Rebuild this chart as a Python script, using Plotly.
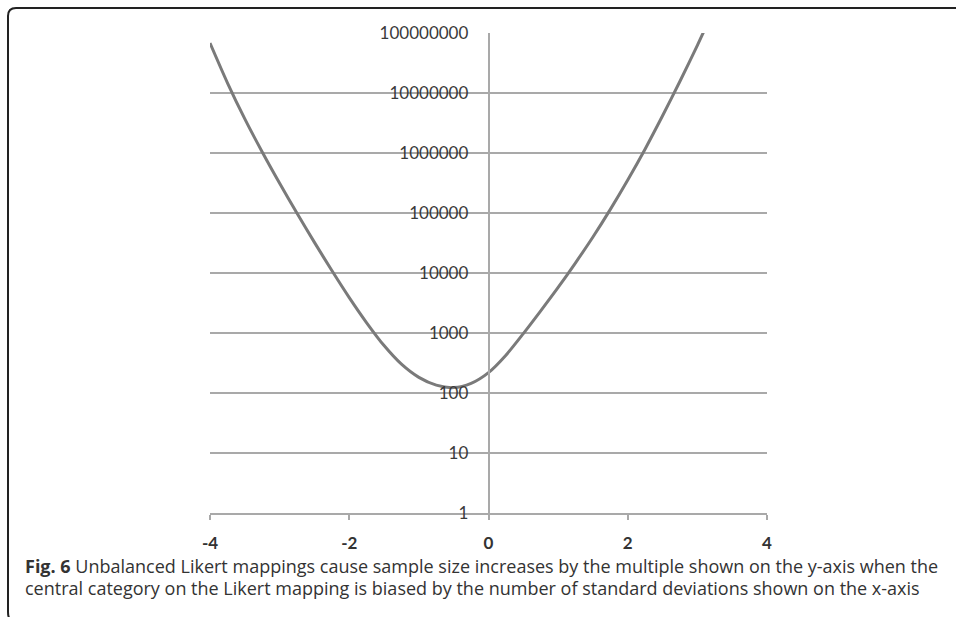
import plotly.graph_objects as go

# Data
x_sd = [-4.0, -3.75, -3.5, -3.25, -3.0, -2.75, -2.5, -2.25, -2.0, -1.75,
        -1.5, -1.25, -1.0, -0.75, -0.5, -0.25, 0.0, 0.25, 0.5, 0.75,
        1.0, 1.25, 1.5, 1.75, 2.0, 2.25, 2.5, 2.75, 3.0, 3.25]
multiple = [6.8e7, 1.48e7, 3.7e6, 1.04e6, 3.13e5, 9.9e4, 3.24e4, 1.1e4, 3890, 1480,
            617, 302, 182, 135, 123, 145, 219, 427, 977, 2340,
            5750, 1.48e4, 3.98e4, 1.15e5, 3.55e5, 1.17e6, 4.17e6, 1.57e7, 6.24e7, 2.66e8]

y_tickvals = [1, 10, 100, 1000, 10000, 100000, 1000000, 10000000, 100000000]
y_ticktext = ["1", "10", "100", "1000", "10000", "100000", "1000000", "10000000", "100000000"]
x_tickvals = [-4, -2, 0, 2, 4]
x_ticktext = ["-4", "-2", "0", "2", "4"]

caption_line1 = "<b>Fig. 6</b> Unbalanced Likert mappings cause sample size increases by the multiple shown on the y-axis when the"
caption_line2 = "central category on the Likert mapping is biased by the number of standard deviations shown on the x-axis"

W, H = 956, 617
L, R, T, B = 210, 767, 33, 513  # plot area in pixels


def px(xp):
    return (xp - L) / (R - L)


def py(yp):
    return (B - yp) / (B - T)


fig = go.Figure()
fig.add_trace(go.Scatter(
    x=x_sd, y=multiple, mode="lines",
    line=dict(color="#7a7a7a", width=3, shape="spline", smoothing=0.8),
    hoverinfo="skip", showlegend=False,
))

grid_col = "#a9a9a9"
fig.update_layout(
    width=W, height=H,
    margin=dict(l=L, r=W - R, t=T, b=H - B),
    paper_bgcolor="white", plot_bgcolor="white",
    showlegend=False,
    xaxis=dict(
        range=[-4, 4], tickvals=x_tickvals, ticktext=x_ticktext,
        showgrid=False, zeroline=False,
        showline=True, linecolor=grid_col, linewidth=1.5,
        ticks="outside", ticklen=5, tickcolor=grid_col, tickwidth=1.5,
        tickfont=dict(family="Lato", size=17, color="#333333", weight="bold"),
        ticklabelstandoff=9,
    ),
    yaxis=dict(
        type="log", range=[0, 8], tickvals=y_tickvals, ticktext=y_ticktext,
        showgrid=True, gridcolor=grid_col, gridwidth=1.5,
        zeroline=False,
        anchor="free", position=0.5,
        showline=True, linecolor=grid_col, linewidth=1.5,
        ticks="", tickfont=dict(family="Lato", size=17, color="#3a3a3a"),
        ticklabelstandoff=16,
    ),
)

# Outer rounded frame (top-left corner visible, continues off the page)
x_left = px(8)
y_top = py(8)
rx = 8 / (R - L)
ry = 8 / (B - T)
path = (f"M {x_left + rx},{py(622)} Q {x_left},{py(622)} {x_left},{py(612)} "
        f"L {x_left},{y_top - ry} Q {x_left},{y_top} {x_left + rx},{y_top} L {px(1000)},{y_top}")
fig.add_shape(type="path", path=path, xref="paper", yref="paper",
              line=dict(color="#222222", width=2), layer="above")

fig.add_annotation(text=caption_line1, xref="paper", yref="paper",
                   x=px(23), y=py(566), xanchor="left", yanchor="middle",
                   showarrow=False, align="left",
                   font=dict(family="Open Sans", size=18, color="#333333"))
fig.add_annotation(text=caption_line2, xref="paper", yref="paper",
                   x=px(23), y=py(588), xanchor="left", yanchor="middle",
                   showarrow=False, align="left",
                   font=dict(family="Open Sans", size=18, color="#333333"))

fig.write_html("out.html", config={"displayModeBar": False},
               post_script="document.body.style.margin='0px';")
